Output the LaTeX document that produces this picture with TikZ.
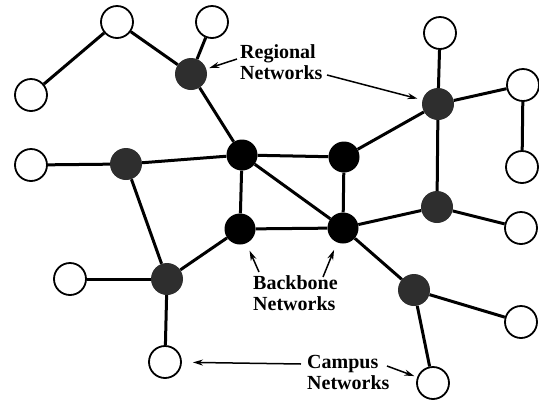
\documentclass[tikz,border=0pt]{standalone}
\usepackage{fontspec}
\setmainfont{Liberation Serif}
\usetikzlibrary{arrows.meta}

\begin{document}
\begin{tikzpicture}[x=1pt,y=-1pt,
  campus/.style={circle,draw,line width=1.8pt,fill=white,minimum size=32pt,inner sep=0pt},
  regional/.style={circle,fill=black!82,minimum size=32pt,inner sep=0pt},
  backbone/.style={circle,fill=black,minimum size=31pt,inner sep=0pt},
  link/.style={line width=3pt},
  lbl/.style={font=\bfseries\fontsize{20}{21}\selectfont,align=left,inner sep=0pt,anchor=north west},
  pointer/.style={line width=1.5pt,-{Stealth[length=10pt,width=6pt]}}]

\useasboundingbox (0,0) rectangle (539,400);

% backbone networks
\node[backbone] (b1) at (242,155) {};
\node[backbone] (b2) at (344,157) {};
\node[backbone] (b3) at (240,229) {};
\node[backbone] (b4) at (343,228) {};

% regional networks
\node[regional] (r1) at (191,74) {};
\node[regional] (r2) at (126,164) {};
\node[regional] (r3) at (438,104) {};
\node[regional] (r4) at (437,207) {};
\node[regional] (r5) at (167,279) {};
\node[regional] (r6) at (414,290) {};

% campus networks
\node[campus] (c1) at (31,95) {};
\node[campus] (c2) at (117,22) {};
\node[campus] (c3) at (212,22) {};
\node[campus] (c4) at (31,165) {};
\node[campus] (c5) at (70,279) {};
\node[campus] (c6) at (165,362) {};
\node[campus] (c7) at (440,33) {};
\node[campus] (c8) at (523,85) {};
\node[campus] (c9) at (522,167) {};
\node[campus] (c10) at (521,228) {};
\node[campus] (c11) at (521,322) {};
\node[campus] (c12) at (433,383) {};

% links
\draw[link] (c1) -- (c2);
\draw[link] (c2) -- (r1);
\draw[link] (c3) -- (r1);
\draw[link] (r1) -- (b1);
\draw[link] (c4) -- (r2);
\draw[link] (r2) -- (b1);
\draw[link] (r2) -- (r5);
\draw[link] (c5) -- (r5);
\draw[link] (r5) -- (c6);
\draw[link] (r5) -- (b3);
\draw[link] (b1) -- (b2);
\draw[link] (b1) -- (b3);
\draw[link] (b1) -- (b4);
\draw[link] (b2) -- (b4);
\draw[link] (b3) -- (b4);
\draw[link] (b2) -- (r3);
\draw[link] (r3) -- (c7);
\draw[link] (r3) -- (c8);
\draw[link] (c8) -- (c9);
\draw[link] (r3) -- (r4);
\draw[link] (r4) -- (b4);
\draw[link] (r4) -- (c10);
\draw[link] (b4) -- (r6);
\draw[link] (r6) -- (c11);
\draw[link] (r6) -- (c12);

% labels
\node[lbl] (lreg) at (240,44) {Regional\\Networks};
\node[lbl] (lbb) at (253,275) {Backbone\\Networks};
\node[lbl] (lcp) at (307,355) {Campus\\Networks};

% label pointers
\coordinate (tr1) at (237,59);
\coordinate (tr3) at (327,75);
\coordinate (tb3) at (259,272);
\coordinate (tb4) at (323,277);
\coordinate (tc6) at (301,364);
\coordinate (tc12) at (387,366);
\draw[pointer,shorten >=3pt] (tr1) -- (r1);
\draw[pointer,shorten >=5pt] (tr3) -- (r3);
\draw[pointer,shorten >=8pt] (tb3) -- (b3);
\draw[pointer,shorten >=8pt] (tb4) -- (b4);
\draw[pointer,shorten >=11pt] (tc6) -- (c6);
\draw[pointer,shorten >=3pt] (tc12) -- (c12);
\end{tikzpicture}
\end{document}
